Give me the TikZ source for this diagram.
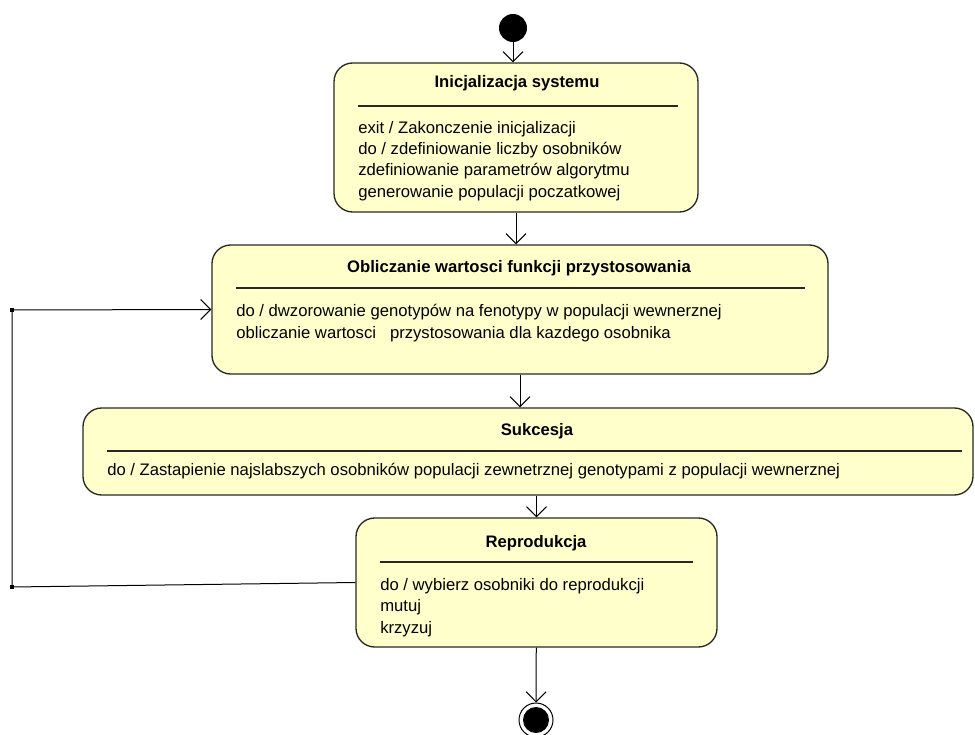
\documentclass[tikz,border=0pt]{standalone}
\usepackage{fontspec}
\setmainfont{Liberation Sans}
\usetikzlibrary{arrows.meta,fit}

\definecolor{statefill}{RGB}{255,255,204}
\definecolor{stateline}{RGB}{40,40,36}

\begin{document}
\begin{tikzpicture}[
    x=0.75pt,y=-0.75pt,
    state/.style={
        draw=stateline,
        fill=statefill,
        line width=1pt,
        rounded corners=14pt,
        inner sep=0pt
    },
    title/.style={anchor=base,inner sep=0pt,font=\fontsize{12.5}{15.75}\selectfont\bfseries},
    body/.style={anchor=base west,inner sep=0pt,align=left,
        font=\fontsize{12.5}{15.9}\selectfont},
    sep/.style={line width=0.9pt,stateline},
    flow/.style={-{Straight Barb[length=7.5pt,width=15pt]},line width=0.75pt},
    corner/.style={fill,rectangle,inner sep=0pt,minimum size=3pt},
    initial/.style={circle,fill,inner sep=0pt,minimum size=21pt},
    final/.style={circle,draw,line width=0.75pt,inner sep=0pt,minimum size=25.5pt,
        path picture={\fill (path picture bounding box.center) circle (9.75pt);}}
]
\useasboundingbox (0,0) rectangle (975,735);

\node[initial] (start) at (513,28) {};

% body nodes sit on the baseline of their last line
\node[state,fit={(334,63) (698,212)}] (init) {};
\node[title] (initT) at (517,88) {Inicjalizacja systemu};
\draw[sep] (358,106) -- (678,106);
\node[body] (initB) at (358,197)
    {exit / Zakonczenie inicjalizacji\\
     do / zdefiniowanie liczby osobników\\
     zdefiniowanie parametrów algorytmu\\
     generowanie populacji poczatkowej};

\node[state,fit={(212,245) (828,374)}] (fitness) {};
\node[title] (fitnessT) at (519,272) {Obliczanie wartosci funkcji przystosowania};
\draw[sep] (236,288) -- (805,288);
\node[body] (fitnessB) at (236,338)
    {do / dwzorowanie genotypów na fenotypy w populacji wewnerznej\\
     obliczanie wartosci\ \ \ przystosowania dla kazdego osobnika};

\node[state,fit={(83,408) (973,495)}] (succ) {};
\node[title] (succT) at (537,435) {Sukcesja};
\draw[sep] (107,451) -- (962,451);
\node[body] (succB) at (107,475)
    {do / Zastapienie najslabszych osobników populacji zewnetrznej genotypami z populacji wewnerznej};

\node[state,fit={(356,518) (717,647)}] (repro) {};
\node[title] (reproT) at (536,547) {Reprodukcja};
\draw[sep] (380,562) -- (693,562);
\node[body] (reproB) at (380,633)
    {do / wybierz osobniki do reprodukcji\\
     mutuj\\
     krzyzuj};

\node[final] (end) at (536,720) {};

\node[corner] (loopA) at (12,310) {};
\node[corner] (loopB) at (12,587) {};

\draw[flow] (start) -- (start |- init.north);
\draw[flow] (init) -- (init.south |- fitness.north);
\draw[flow] (fitness.south) -- (fitness.south |- succ.north);
\draw[flow] (repro.north |- succ.south) -- (repro.north);
\draw[flow] (repro) -- (end);
\draw[flow] (repro.west) -- (loopB.center) -- (loopA.center) -- (fitness.west);

\end{tikzpicture}
\end{document}
